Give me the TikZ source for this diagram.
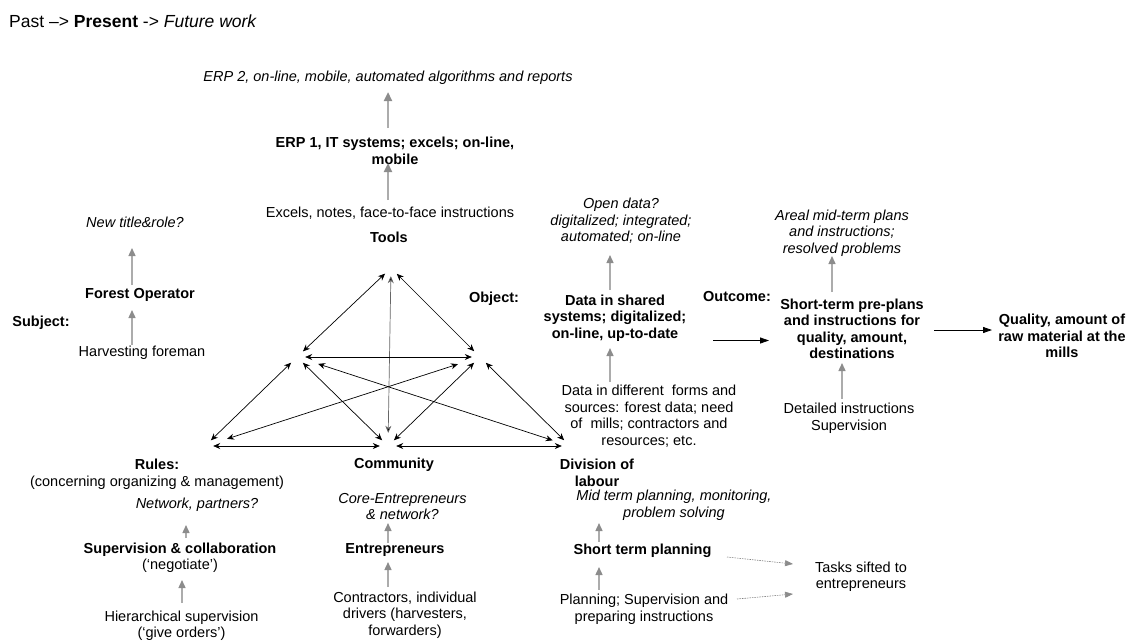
\documentclass[tikz,border=0pt]{standalone}
\usepackage{fontspec}
\setmainfont{Liberation Sans}
\usetikzlibrary{arrows.meta}

\begin{document}
\begin{tikzpicture}[x=1pt, y=-1pt,
    every node/.style={font=\fontsize{14.5}{16.5}\selectfont, inner sep=1pt, align=center},
    present/.style={font=\fontsize{14.5}{16.5}\selectfont\bfseries},
    future/.style={font=\fontsize{14.5}{16.5}\selectfont\itshape},
    vx/.style={circle, inner sep=0pt, minimum size=16pt},
    tri/.style={<->, >={Stealth[length=7pt,width=6pt]}, line width=0.7pt},
    up/.style={draw=gray!65, line width=1.4pt, -{Triangle[length=8pt,width=7pt,color=gray!90]}},
    upthick/.style={draw=gray!65, line width=2.4pt, -{Triangle[length=9pt,width=8pt,color=gray!90]}},
    flow/.style={-{Triangle[length=9pt,width=6pt]}, line width=0.8pt},
    task/.style={draw=gray, dash pattern=on 1.5pt off 1pt, line width=0.6pt, -{Triangle[length=8pt,width=6pt,color=gray!90]}}]

    \useasboundingbox (0,0) rectangle (1132,643);

    \node[anchor=west, font=\fontsize{17.5}{20}\selectfont] (title) at (8,21) {Past –> \textbf{Present} -> \textit{Future work}};

    % tools column
    \node[future] (erp2) at (388,78) {ERP 2, on-line, mobile, automated algorithms and reports};
    \node[present] (erp1) at (395,151) {ERP 1, IT systems; excels; on-line,\\mobile};
    \node (excels) at (390,213) {Excels, notes, face-to-face instructions};
    \node[present] (tools) at (389,237) {Tools};

    % subject
    \node[future] (newrole) at (135,222) {New title\&role?};
    \node[present] (forop) at (140,295) {Forest Operator};
    \node[present] (subj) at (41,323) {Subject:};
    \node (harv) at (142,353) {Harvesting foreman};

    % object
    \node[present] (object) at (494,299) {Object:};
    \node[future] (opendata) at (621,221) {Open data?\\digitalized; integrated;\\automated; on-line};
    \node[present] (shared) at (615,318) {Data in shared\\systems; digitalized;\\on-line, up-to-date};
    \node (forms) at (649,416) {Data in different\ \ forms and\\sources: forest data; need\\of\ \ mills; contractors and\\resources; etc.};

    % outcome
    \node[present] (outcome) at (737,297) {Outcome:};
    \node[future] (areal) at (842,233) {Areal mid-term plans\\and instructions;\\resolved problems};
    \node[present] (preplan) at (852,329) {Short-term pre-plans\\and instructions for\\quality, amount,\\destinations};
    \node (detailed) at (849,418) {Detailed instructions\\Supervision};
    \node[present] (quality) at (1062,336) {Quality, amount of\\raw material at the\\mills};

    % rules
    \node (rules) at (157,474) {\textbf{Rules:}\\(concerning organizing \& management)};
    \node[future] (partners) at (197,505) {Network, partners?};
    \node (collab) at (180,557.5) {\textbf{Supervision \& collaboration}\\(‘negotiate’)};
    \node (hier) at (181.5,625.5) {Hierarchical supervision\\(‘give orders’)};

    % community
    \node[present] (community) at (394,465) {Community};
    \node[future] (core) at (402.5,506.5) {Core-Entrepreneurs\\\& network?};
    \node[present] (entre) at (395,550) {Entrepreneurs};
    \node (contr) at (405,615) {Contractors, individual\\drivers (harvesters,\\forwarders)};

    % division of labour
    \node[present] (division) at (597,473) {Division of\\labour};
    \node[future] (midterm) at (674,505) {Mid term planning, monitoring,\\problem solving};
    \node[present] (stplan) at (642.5,551) {Short term planning};
    \node (planning) at (644,609) {Planning; Supervision and\\preparing instructions};
    \node (tasks) at (861,576.5) {Tasks sifted to\\entrepreneurs};

    % triangle
    \node[vx] (vT) at (391,268) {};
    \node[vx] (vS) at (297,357) {};
    \node[vx] (vO) at (480,357) {};
    \node[vx] (vR) at (205,446) {};
    \node[vx] (vC) at (388,446) {};
    \node[vx] (vD) at (570,446) {};

    \path[tri] (vT) edge (vS);
    \path[tri] (vT) edge (vO);
    \path[tri, draw=black!60, shorten >=5pt] (vT) edge (vC);
    \path[tri] (vS) edge (vO);
    \path[tri] (vS) edge (vR);
    \path[tri] (vS) edge (vC);
    \path[tri, shorten <=14pt, shorten >=10pt] (vS) edge (vD);
    \path[tri, shorten <=15pt, shorten >=15pt] (vO) edge (vR);
    \path[tri] (vO) edge (vC);
    \path[tri] (vO) edge (vD);
    \path[tri] (vR) edge (vC);
    \path[tri] (vC) edge (vD);

    % past -> present -> future
    \draw[upthick, shorten <=13pt, shorten >=12pt] ([xshift=-2pt]excels.center) -- ([xshift=-2pt]excels.center |- erp1.center);
    \draw[upthick, shorten <=23pt, shorten >=14pt] ([xshift=-7pt]erp1.center) -- ([xshift=-7pt]erp1.center |- erp2.center);
    \draw[up, shorten <=8pt, shorten >=15pt] ([xshift=-10pt]harv.center) -- ([xshift=-10pt]harv.center |- forop.center);
    \draw[up, shorten <=10pt, shorten >=26pt] ([xshift=-8pt]forop.center) -- ([xshift=-8pt]forop.center |- newrole.center);
    \draw[up, shorten <=34pt, shorten >=30pt] ([xshift=-39pt]forms.center) -- ([xshift=-39pt]forms.center |- shared.center);
    \draw[up, shorten <=28pt, shorten >=34pt] ([xshift=-5pt]shared.center) -- ([xshift=-5pt]shared.center |- opendata.center);
    \draw[up, shorten <=19pt, shorten >=34pt] ([xshift=-7pt]detailed.center) -- ([xshift=-7pt]detailed.center |- preplan.center);
    \draw[up, shorten <=37pt, shorten >=23pt] ([xshift=-20pt]preplan.center) -- ([xshift=-20pt]preplan.center |- areal.center);
    \draw[up, shorten <=22.5pt, shorten >=22.5pt] ([xshift=0.5pt]hier.center) -- ([xshift=0.5pt]hier.center |- collab.center);
    \draw[up, shorten <=19.5pt, shorten >=20pt] ([xshift=6pt]collab.center) -- ([xshift=6pt]collab.center |- partners.center);
    \draw[up, shorten <=28pt, shorten >=12pt] ([xshift=-17pt]contr.center) -- ([xshift=-17pt]contr.center |- entre.center);
    \draw[up, shorten <=7pt, shorten >=16.5pt] ([xshift=-7pt]entre.center) -- ([xshift=-7pt]entre.center |- core.center);
    \draw[up, shorten <=19pt, shorten >=16pt] ([xshift=-45pt]planning.center) -- ([xshift=-45pt]planning.center |- stplan.center);
    \draw[up, shorten <=9pt, shorten >=18pt] ([xshift=-43.5pt]stplan.center) -- ([xshift=-43.5pt]stplan.center |- midterm.center);

    \draw[flow, shorten <=98pt, shorten >=83pt] ([yshift=-22.5pt]shared.center) -- ([yshift=-22.5pt]shared.center -| preplan.center);
    \draw[flow, shorten <=82pt, shorten >=70pt] ([yshift=-1pt]preplan.center) -- ([yshift=-1pt]preplan.center -| quality.center);

    \draw[task] ([shift={(84.5,6)}]stplan.center) -- ([shift={(-68,-12.5)}]tasks.center);
    \draw[task] ([shift={(93,-10)}]planning.center) -- ([shift={(-68,17.5)}]tasks.center);

\end{tikzpicture}
\end{document}
